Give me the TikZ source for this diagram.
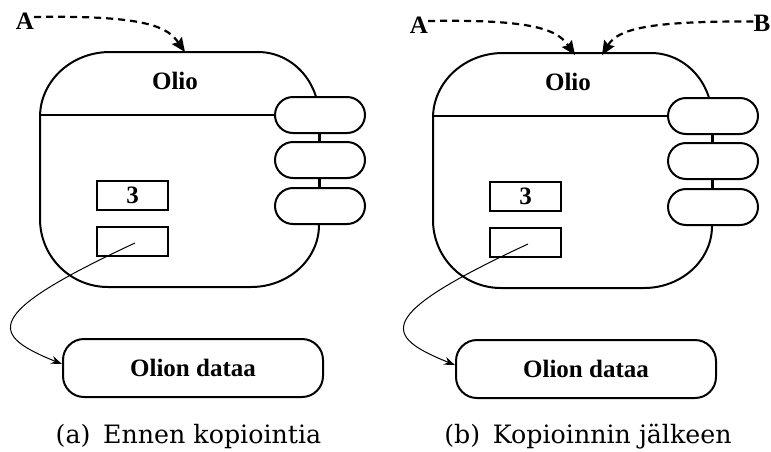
\documentclass[tikz,border=0pt]{standalone}
\usepackage{fontspec}
\setmainfont{Liberation Serif}
\newfontfamily\capserif{DejaVu Serif}
\usetikzlibrary{arrows.meta}
\newcommand\capfont{\capserif\fontsize{25.3}{29}\selectfont}
\newcommand\olioPanel{%
  \draw[objline] (40,117) .. controls (40,81.1) and (71.3,52) .. (110,52)
    -- (258,52) .. controls (291.7,52) and (319,81.1) .. (319,117)
    -- (319,225) .. controls (319,259.2) and (288.6,287) .. (251,287)
    -- (108,287) .. controls (70.4,287) and (40,256.6) .. (40,219) -- cycle;
  \node[lbl] (olio) at (175,81) {Olio};
  \node[pill] (p1) at (320,115) {};
  \node[pill] (p2) at (320,160) {};
  \node[pill] (p3) at (320,206) {};
  \coordinate (divl) at (40,115);
  \draw[objline] (divl) -- (p1.west);
  \draw[objline] (p1.south) -- (p2.north);
  \draw[objline] (p2.south) -- (p3.north);
  \node[field] (f1) at (132.5,195.5) {3};
  \node[field] (f2) at (132.5,241.5) {};
  \node[datab] (data) at (193,368) {Olion dataa};
  \coordinate (ptr) at (135,243);
  \draw[ptrline] (ptr) .. controls (-20,315) and (-10,335) .. (data.west|-0,364);
}
\begin{document}
\begin{tikzpicture}[x=1pt,y=-1pt,
  objline/.style={line width=2pt},
  lbl/.style={font=\fontsize{25}{29}\selectfont\bfseries, inner sep=0pt},
  pill/.style={draw, line width=2pt, fill=white, minimum width=90pt, minimum height=36pt, rounded corners=18pt, inner sep=0pt},
  field/.style={draw, line width=1.4pt, minimum width=71pt, minimum height=29pt, inner sep=0pt, font=\fontsize{25}{29}\selectfont\bfseries},
  datab/.style={draw, line width=2pt, minimum width=260pt, minimum height=58pt, rounded corners=21pt, inner sep=0pt, font=\fontsize{25}{29}\selectfont\bfseries},
  ptrline/.style={line width=1pt, -{Stealth[length=11pt,width=8pt]}},
  refline/.style={line width=2.2pt, dash pattern=on 7pt off 5pt, -{Stealth[length=14pt,width=12pt,inset=2pt]}},
  caption/.style={font=\capfont, inner sep=0pt, anchor=base}
]
\useasboundingbox (0,0) rectangle (771,451);
\begin{scope}[name prefix=a-]
  \olioPanel
  \node[lbl] (A) at (25,21) {A};
  \coordinate (tipA) at (185,52);
  \draw[refline] ([yshift=4pt]A.east) .. controls (150,15) and (168,28) .. (tipA);
  \node[caption] (cap) at (188.5,443) {(a)\enspace Ennen kopiointia};
\end{scope}
\begin{scope}[shift={(393,1)}, name prefix=b-]
  \olioPanel
  \node[lbl] (A) at (26,24) {A};
  \node[lbl] (B) at (369,22.5) {B};
  \coordinate (tipA) at (182,54);
  \coordinate (tipB) at (209,54);
  \draw[refline] ([yshift=4pt]A.east) .. controls (145,18) and (165,30) .. (tipA);
  \draw[refline] ([yshift=2pt]B.west) .. controls (255,20) and (225,28) .. (tipB);
  \node[caption] (cap) at (195,442) {(b)\enspace Kopioinnin jälkeen};
\end{scope}
\end{tikzpicture}
\end{document}
